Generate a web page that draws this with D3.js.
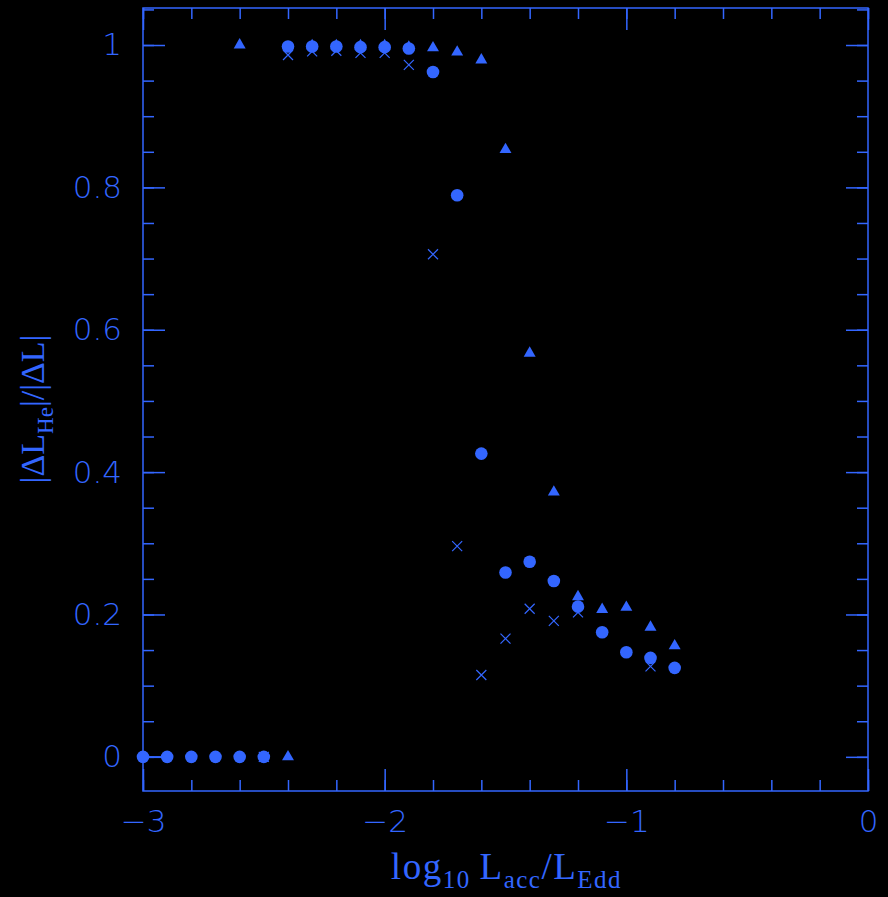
<!DOCTYPE html>
<html>
<head>
<meta charset="utf-8">
<script src="https://cdn.jsdelivr.net/npm/d3@7"></script>
<style>
html,body{margin:0;padding:0;background:#000;}
svg{display:block;}
</style>
</head>
<body>
<script>
// ---- data ----
const circleX = [-3.0,-2.9,-2.8,-2.7,-2.6,-2.5,-2.4,-2.3,-2.2,-2.1,-2.0,-1.9,-1.8,-1.7,-1.6,-1.5,-1.4,-1.3,-1.2,-1.1,-1.0,-0.9,-0.8];
const circleY = [0,0,0,0,0,0,0.998,0.998,0.998,0.997,0.997,0.995,0.962,0.789,0.426,0.259,0.274,0.247,0.211,0.175,0.147,0.139,0.125];
const triangleX = [-2.6,-2.4,-2.3,-2.2,-2.1,-2.0,-1.9,-1.8,-1.7,-1.6,-1.5,-1.4,-1.3,-1.2,-1.1,-1.0,-0.9,-0.8];
const triangleY = [1.0,0,0.999,0.999,0.999,0.999,0.997,0.996,0.990,0.979,0.853,0.567,0.372,0.225,0.207,0.210,0.182,0.156];
const crossX = [-2.5,-2.4,-2.3,-2.2,-2.1,-2.0,-1.9,-1.8,-1.7,-1.6,-1.5,-1.4,-1.3,-1.2,-0.9];
const crossY = [0,0.986,0.991,0.992,0.989,0.989,0.972,0.706,0.296,0.115,0.166,0.208,0.191,0.203,0.127];
const xMajorTicks = [-3,-2,-1,0];
const xMinorTicks = d3.range(-3,0.001,0.2).map(v=>+v.toFixed(2));
const yMajorTicks = [0,0.2,0.4,0.6,0.8,1];
const yMinorTicks = d3.range(0,1.051,0.05).map(v=>+v.toFixed(2));

const W = 888, H = 897;
const C = "#3366ff";
const L = 143, R = 868, T = 8, B = 791;

const svg = d3.select("body").append("svg").attr("width",W).attr("height",H)
  .style("background","#000");

const x = d3.scaleLinear().domain([-3,0]).range([L,R]);
const y = d3.scaleLinear().domain([-0.048,1.052]).range([B,T]);

const fmt = d => d===0 ? "0" : (d<0 ? "\u2212"+Math.abs(d) : String(d));
const tickFont = "'DejaVu Sans', sans-serif";

function styleAxis(g){
  g.select(".domain").remove();
  g.selectAll("line").attr("stroke",C).attr("stroke-width",1.5);
  g.selectAll("text").attr("fill",C).style("font-family",tickFont)
    .style("font-size","31px").style("font-weight","200");
}

// minor ticks
svg.append("g").attr("transform",`translate(0,${B})`)
  .call(d3.axisBottom(x).tickValues(xMinorTicks).tickSize(-11).tickFormat("")).call(styleAxis);
svg.append("g").attr("transform",`translate(0,${T})`)
  .call(d3.axisTop(x).tickValues(xMinorTicks).tickSize(-11).tickFormat("")).call(styleAxis);
svg.append("g").attr("transform",`translate(${L},0)`)
  .call(d3.axisLeft(y).tickValues(yMinorTicks).tickSize(-11).tickFormat("")).call(styleAxis);
svg.append("g").attr("transform",`translate(${R},0)`)
  .call(d3.axisRight(y).tickValues(yMinorTicks).tickSize(-11).tickFormat("")).call(styleAxis);

// major ticks
svg.append("g").attr("transform",`translate(0,${B})`)
  .call(d3.axisBottom(x).tickValues(xMajorTicks).tickSize(-22).tickPadding(19).tickFormat(fmt)).call(styleAxis);
svg.append("g").attr("transform",`translate(0,${T})`)
  .call(d3.axisTop(x).tickValues(xMajorTicks).tickSize(-22).tickFormat("")).call(styleAxis);
svg.append("g").attr("transform",`translate(${L},0)`)
  .call(d3.axisLeft(y).tickValues(yMajorTicks).tickSize(-22).tickPadding(21).tickFormat(d=>d===0?"0":d===1?"1":String(d))).call(styleAxis);
svg.append("g").attr("transform",`translate(${R},0)`)
  .call(d3.axisRight(y).tickValues(yMajorTicks).tickSize(-22).tickFormat("")).call(styleAxis);

// frame
svg.append("rect").attr("x",L).attr("y",T).attr("width",R-L).attr("height",B-T)
  .attr("fill","none").attr("stroke",C).attr("stroke-width",1.5);

// short connecting segment between first two circle points
svg.append("line")
  .attr("x1",x(circleX[0])).attr("y1",y(circleY[0]))
  .attr("x2",x(circleX[1])).attr("y2",y(circleY[1]))
  .attr("stroke",C).attr("stroke-width",1.5);

// crosses
const crossData = crossX.map((v,i)=>({x:v,y:crossY[i]}));
const cs = 5;
svg.append("g").selectAll("path").data(crossData).join("path")
  .attr("d",d=>{const cx=x(d.x), cy=y(d.y);
    return `M${cx-cs},${cy-cs}L${cx+cs},${cy+cs}M${cx-cs},${cy+cs}L${cx+cs},${cy-cs}`;})
  .attr("stroke",C).attr("stroke-width",1.2).attr("fill","none");

// circles
const circleData = circleX.map((v,i)=>({x:v,y:circleY[i]}));
svg.append("g").selectAll("circle").data(circleData).join("circle")
  .attr("cx",d=>x(d.x)).attr("cy",d=>y(d.y)).attr("r",6.3).attr("fill",C);

// triangles
const triData = triangleX.map((v,i)=>({x:v,y:triangleY[i]}));
const tri = d3.symbol().type(d3.symbolTriangle).size(62);
svg.append("g").selectAll("path").data(triData).join("path")
  .attr("transform",d=>`translate(${x(d.x)},${y(d.y)})`)
  .attr("d",tri).attr("fill",C);

// x label
const serif = "'Liberation Serif','DejaVu Serif',serif";
const xl = svg.append("text").attr("x",(L+R)/2 + 1).attr("y",879)
  .attr("text-anchor","middle").attr("fill",C)
  .style("font-family",serif).style("font-size","37px").style("letter-spacing","1.5px");
xl.append("tspan").text("log");
xl.append("tspan").attr("dy",9).style("font-size","25px").text("10");
xl.append("tspan").attr("dy",-9).text("\u2009L");
xl.append("tspan").attr("dy",9).style("font-size","25px").text("acc");
xl.append("tspan").attr("dy",-9).text("/L");
xl.append("tspan").attr("dy",9).style("font-size","25px").text("Edd");

// y label
const yl = svg.append("text").attr("transform","translate(44,409) rotate(-90)")
  .attr("text-anchor","middle").attr("fill",C)
  .style("font-family",serif).style("font-size","34px");
yl.append("tspan").text("|\u0394L");
yl.append("tspan").attr("dy",9).style("font-size","23px").text("He");
yl.append("tspan").attr("dy",-9).text("|/|\u0394L|");
</script>
</body>
</html>
